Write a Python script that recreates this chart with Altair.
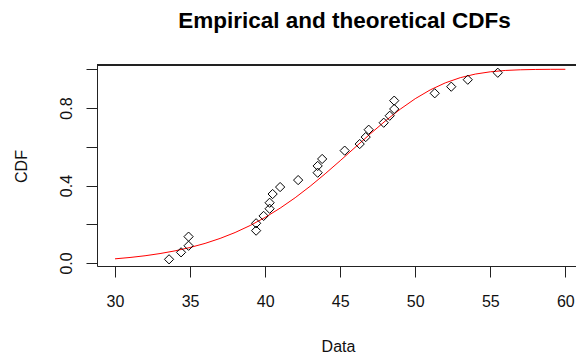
import altair as alt
import pandas as pd

# Empirical points (sorted data, plotting positions)
emp_x = [33.6, 34.4, 34.9, 34.9, 39.4, 39.4, 39.9, 40.3, 40.3, 40.5, 41.0, 42.2,
         43.5, 43.5, 43.8, 45.3, 46.3, 46.7, 46.9, 47.9, 48.3, 48.6, 48.6, 51.3,
         52.4, 53.5, 55.5]
emp_y = [0.019, 0.055, 0.089, 0.136, 0.167, 0.205, 0.243, 0.280, 0.311, 0.356,
         0.392, 0.428, 0.466, 0.501, 0.537, 0.580, 0.614, 0.650, 0.688, 0.724,
         0.760, 0.795, 0.838, 0.876, 0.910, 0.946, 0.982]

# Theoretical CDF curve
cdf_x = list(range(30, 61))
cdf_y = [0.0215, 0.0285, 0.0374, 0.0487, 0.0627, 0.0800, 0.1012, 0.1268, 0.1573,
         0.1934, 0.2352, 0.2831, 0.3368, 0.3962, 0.4604, 0.5280, 0.5971, 0.6661,
         0.7327, 0.7939, 0.8481, 0.8936, 0.9297, 0.9566, 0.9751, 0.9869, 0.9938,
         0.9973, 0.9990, 0.9997, 0.9999]

x_ticks = [30, 35, 40, 45, 50, 55, 60]
y_ticks = [0.0, 0.2, 0.4, 0.6, 0.8, 1.0]

W, H = 479, 201
FONT = "Liberation Sans"

emp = pd.DataFrame({"x": emp_x, "y": emp_y})
cdf = pd.DataFrame({"x": cdf_x, "y": cdf_y})

xscale = alt.Scale(domain=[28.8, 60.71], nice=False, zero=False)
yscale = alt.Scale(domain=[-0.0155, 1.022], nice=False, zero=False)

xaxis = alt.Axis(values=x_ticks, title="Data", grid=False, tickSize=11,
                 labelPadding=16, labelFontSize=16, labelFont=FONT,
                 labelColor="#111", domainColor="#222", tickColor="#222",
                 titleFont=FONT, titleFontSize=16, titleFontWeight="normal",
                 titleColor="#111", titleX=241, titleY=80, titleBaseline="middle",
                 labelFlush=False, labelOverlap=False)
yaxis = alt.Axis(values=y_ticks, title="CDF", grid=False, tickSize=11,
                 labelAngle=270, labelAlign="center", labelBaseline="alphabetic",
                 labelPadding=15, labelFontSize=16, labelFont=FONT,
                 labelColor="#111", domainColor="#222", tickColor="#222",
                 labelExpr="indexof(['0.0','0.4','0.8'], format(datum.value, '.1f')) >= 0 ? format(datum.value, '.1f') : ''",
                 titleFont=FONT, titleFontSize=16, titleFontWeight="normal",
                 titleColor="#111", titleAngle=270, titleX=-76, titleY=101,
                 titleAlign="center", titleBaseline="middle",
                 labelFlush=False, labelOverlap=False)

line = alt.Chart(cdf).mark_line(color="#FF0000", strokeWidth=1).encode(
    x=alt.X("x:Q", scale=xscale, axis=xaxis),
    y=alt.Y("y:Q", scale=yscale, axis=yaxis),
)
pts = alt.Chart(emp).mark_point(shape="diamond", filled=False, color="black",
                                 strokeWidth=1, size=85, opacity=1).encode(
    x=alt.X("x:Q", scale=xscale),
    y=alt.Y("y:Q", scale=yscale),
)
top = alt.Chart(emp).mark_rule(color="#222", strokeWidth=1).encode(
    x=alt.value(0), x2=alt.value(W), y=alt.value(0)
)

chart = alt.layer(line, pts, top).properties(
    width=W, height=H,
    title=alt.TitleParams("Empirical and theoretical CDFs", font=FONT, fontSize=22.5,
                          fontWeight="bold", color="black", anchor="middle",
                          baseline="alphabetic", offset=14, dx=8),
    autosize=alt.AutoSizeParams(type="none"),
    padding={"left": 97, "top": 65, "right": 0, "bottom": 90},
).configure_view(stroke=None).configure(background="white")

chart.save("out.html", embed_options={"renderer": "svg", "actions": False})
